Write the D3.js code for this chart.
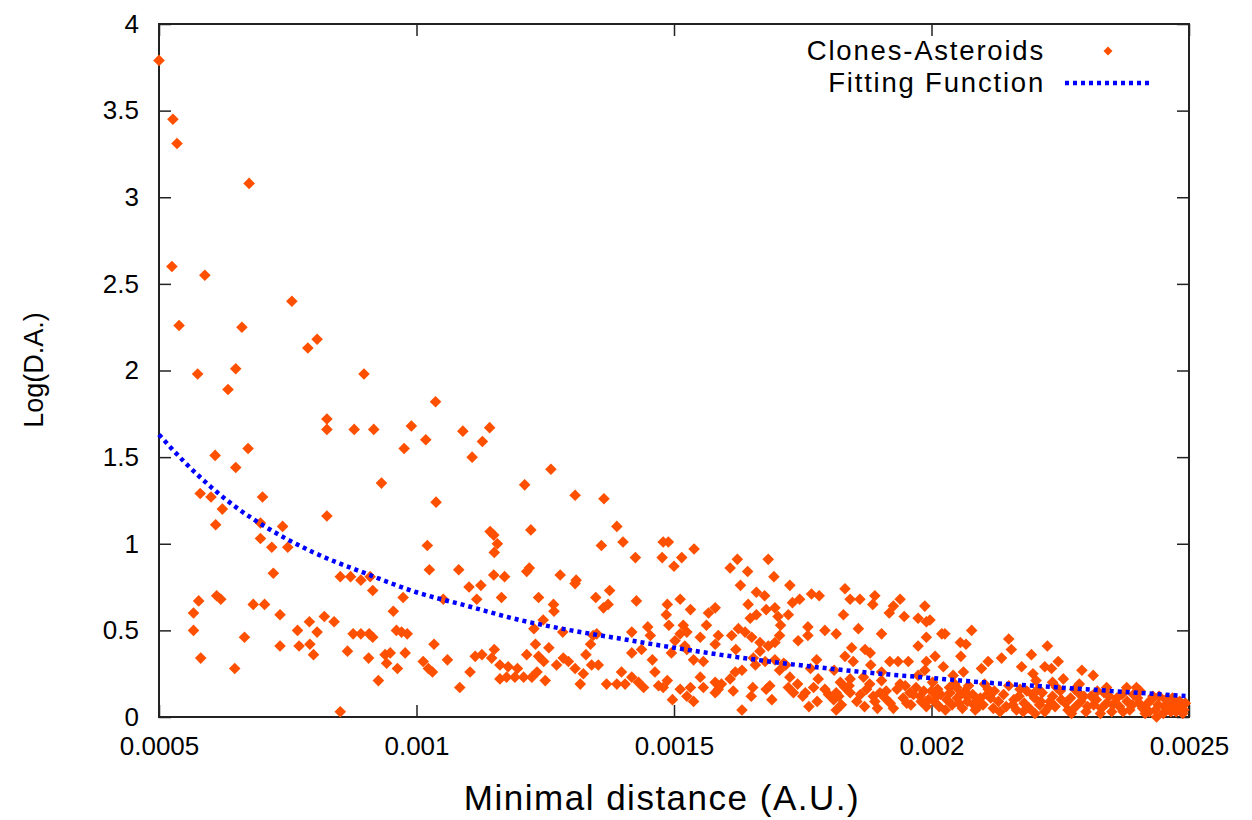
<!DOCTYPE html>
<html><head><meta charset="utf-8">
<script src="https://cdn.jsdelivr.net/npm/d3@7"></script>
<style>
html,body{margin:0;padding:0;background:#fff;}
svg text{font-family:"Liberation Sans",Arial,sans-serif;fill:#000;}
</style></head>
<body><svg id="chart" width="1252" height="820"></svg>
<script>
const xTicks = [0.0005, 0.001, 0.0015, 0.002, 0.0025];
const xTickLabels = ["0.0005", "0.001", "0.0015", "0.002", "0.0025"];
const yTicks = [0, 0.5, 1, 1.5, 2, 2.5, 3, 3.5, 4];
const yTickLabels = ["0", "0.5", "1", "1.5", "2", "2.5", "3", "3.5", "4"];
const seriesNames = ["Clones-Asteroids", "Fitting Function"];
const xTitle = "Minimal distance (A.U.)";
const yTitle = "Log(D.A.)";

// Clones-Asteroids: [minimal distance, log(D.A.)]
const clonePoints = [
[0.0005,3.79],[0.000527,3.45],[0.000535,3.31],[0.000675,3.08],
[0.000525,2.60],[0.000589,2.55],[0.000539,2.26],[0.000758,2.40],[0.000661,2.25],[0.000789,2.13],[0.000807,2.18],
[0.000575,1.98],[0.000649,2.01],[0.000634,1.89],[0.000898,1.98],
[0.000826,1.72],[0.000826,1.66],[0.000879,1.66],[0.000917,1.66],
[0.000609,1.51],[0.000673,1.55],[0.000649,1.44],[0.000932,1.35],
[0.001037,1.82],[0.00099,1.68],[0.001018,1.60],[0.000976,1.55],[0.00109,1.65],[0.001142,1.67],[0.001128,1.59],[0.001108,1.50],
[0.001261,1.43],[0.00121,1.34],[0.001308,1.28],[0.001364,1.26],[0.001038,1.24],
[0.00058,1.29],[0.000601,1.27],[0.000623,1.20],[0.00061,1.11],[0.000701,1.27],[0.000697,1.12],[0.000697,1.03],[0.000719,0.98],[0.00074,1.10],[0.00075,0.98],[0.000826,1.16],[0.000722,0.83],
[0.000852,0.81],[0.000872,0.81],[0.000892,0.79],[0.00091,0.81],[0.000915,0.73],
[0.000567,0.60],[0.000577,0.67],[0.000567,0.50],[0.000581,0.34],[0.000612,0.70],[0.00062,0.68],[0.000666,0.46],[0.000647,0.28],[0.000683,0.65],[0.000705,0.65],[0.000735,0.59],[0.000735,0.41],[0.000769,0.50],[0.000772,0.41],[0.000792,0.55],[0.000807,0.49],[0.000793,0.42],[0.0008,0.36],[0.000821,0.58],[0.00084,0.55],[0.000852,0.03],[0.000866,0.38],[0.000877,0.48],[0.000892,0.48],[0.000908,0.48],[0.000915,0.46],[0.000907,0.34],[0.000926,0.21],[0.000939,0.36],[0.000949,0.37],[0.000942,0.31],[0.000955,0.61],[0.000963,0.28],
[0.001143,1.07],[0.00115,1.05],[0.001157,1.00],[0.001151,0.95],[0.001222,1.08],[0.001021,0.99],[0.001025,0.85],[0.001082,0.85],[0.001389,1.10],[0.001401,1.01],[0.001359,0.99],[0.001425,0.92],[0.001479,1.01],[0.001489,1.01],[0.001477,0.92],[0.0015,0.87],[0.001515,0.92],
[0.001214,0.84],[0.001219,0.86],[0.00115,0.82],[0.001171,0.81],[0.001279,0.82],[0.00131,0.79],[0.001308,0.77],[0.001102,0.75],[0.001125,0.76],[0.001117,0.68],[0.001165,0.69],[0.001237,0.69],[0.001348,0.69],[0.001375,0.73],[0.001363,0.63],[0.001372,0.65],[0.001427,0.67],[0.001487,0.65],[0.001512,0.68],[0.001485,0.59],[0.00149,0.53],[0.001518,0.53],
[0.000974,0.69],[0.001266,0.65],[0.001267,0.61],[0.001246,0.56],[0.001228,0.51],[0.001284,0.49],[0.001343,0.47],[0.00135,0.48],[0.001418,0.49],[0.001449,0.52],[0.001454,0.47],[0.001338,0.42],[0.001418,0.37],[0.001437,0.39],[0.001458,0.33],[0.001495,0.37],
[0.000961,0.50],[0.000971,0.49],[0.000982,0.48],[0.000978,0.37],
[0.001034,0.42],[0.00106,0.33],[0.001013,0.32],[0.001023,0.28],[0.001031,0.26],[0.001084,0.17],[0.001104,0.26],[0.001114,0.35],[0.001127,0.36],[0.001146,0.34],[0.001151,0.39],[0.001162,0.30],[0.001178,0.29],[0.001162,0.22],[0.001175,0.23],[0.001191,0.23],[0.001208,0.23],[0.001224,0.23],[0.001214,0.36],[0.001231,0.42],[0.001237,0.35],[0.001247,0.32],[0.001257,0.40],[0.001272,0.30],[0.00125,0.21],[0.001285,0.34],[0.001295,0.32],[0.001308,0.28],[0.001324,0.25],[0.001318,0.19],[0.001329,0.36],[0.00134,0.30],[0.001353,0.30],[0.001369,0.19],[0.001389,0.19],[0.001398,0.26],[0.001405,0.19],[0.001418,0.23],[0.001431,0.20],[0.001441,0.17],[0.001463,0.26],[0.00147,0.18],[0.001479,0.17],[0.001487,0.21],[0.001497,0.10],[0.001512,0.16],[0.001525,0.12],[0.001502,0.44],[0.001512,0.48],[0.001521,0.41],
[0.001196,0.28],[0.001234,0.26],[0.001052,0.68],
[0.001539,0.97],[0.001609,0.86],[0.001623,0.91],[0.001643,0.84],[0.001683,0.91],[0.001694,0.81],[0.001629,0.76],[0.00166,0.72],[0.001676,0.70],[0.001725,0.76],[0.001644,0.65],[0.001679,0.62],[0.001696,0.63],[0.001702,0.58],[0.001722,0.59],[0.001707,0.53],[0.00173,0.66],[0.001744,0.68],[0.001767,0.71],[0.001782,0.70],[0.001832,0.74],[0.001842,0.68],[0.001861,0.68],[0.00189,0.70],[0.001886,0.65],[0.001829,0.59],[0.00176,0.52],[0.00176,0.47],[0.001741,0.44],[0.001793,0.50],[0.001815,0.48],[0.001858,0.51],[0.001903,0.48],[0.001918,0.60],[0.001926,0.64],[0.001939,0.68],[0.001947,0.58],[0.001974,0.57],[0.001987,0.64],[0.00199,0.55],[0.00199,0.46],[0.001974,0.41],
[0.001532,0.62],[0.001567,0.60],[0.00158,0.63],[0.001563,0.53],[0.001525,0.49],[0.001551,0.46],[0.001586,0.47],[0.00158,0.42],[0.001612,0.47],[0.001625,0.51],[0.001638,0.49],[0.001651,0.46],[0.001667,0.43],[0.001683,0.41],[0.001696,0.43],[0.001705,0.47],[0.001667,0.38],[0.001525,0.39],[0.001538,0.33],[0.001557,0.32],[0.001551,0.23],[0.001557,0.17],[0.001532,0.17],[0.001538,0.09],[0.00158,0.20],[0.001592,0.19],[0.001609,0.22],[0.001619,0.26],[0.001632,0.27],[0.001615,0.15],[0.001632,0.04],[0.001653,0.17],[0.001658,0.30],[0.001679,0.16],[0.001686,0.18],[0.001705,0.27],[0.001717,0.30],[0.001725,0.23],[0.001722,0.17],[0.001732,0.14],[0.001755,0.14],[0.001771,0.17],[0.001777,0.33],[0.001793,0.16],[0.001815,0.14],[0.001823,0.20],[0.001832,0.17],[0.001842,0.22],[0.001848,0.32],[0.001832,0.35],[0.001845,0.40],[0.001871,0.39],[0.001881,0.37],[0.001874,0.16],[0.001887,0.12],[0.0019,0.14],[0.001903,0.21],[0.001919,0.32],[0.001935,0.32],[0.001955,0.32],[0.001926,0.05],[0.001939,0.19],[0.001958,0.14],[0.001978,0.12],[0.001994,0.10],[0.001987,0.27],[0.001974,0.24],[0.001903,0.26],
[0.002078,0.50],[0.00202,0.48],[0.002026,0.48],[0.001997,0.56],[0.002056,0.43],[0.002067,0.42],[0.002057,0.35],[0.002007,0.35],[0.002023,0.29],[0.002062,0.26],[0.00215,0.45],[0.002155,0.39],[0.002136,0.34],[0.002097,0.28],[0.00211,0.32],[0.002194,0.36],[0.002225,0.41],[0.002246,0.32],[0.002175,0.29],[0.00222,0.29],[0.002233,0.28],[0.002197,0.25],[0.002256,0.22],[0.002292,0.27],[0.002314,0.24],[0.002042,0.24],[0.00234,0.17],[0.002379,0.17],[0.002398,0.17],[0.002405,0.15],[0.002201,0.02],[0.002437,0.00],
[0.00199,0.32],[0.001882,0.30],[0.001765,0.28],[0.001811,0.27],[0.001868,0.23],[0.00175,0.12],[0.00182,0.12],[0.001842,0.14],[0.001933,0.16],[0.001949,0.18],[0.002012,0.16],[0.002036,0.14],[0.002056,0.13],[0.002069,0.12],[0.002082,0.07],[0.002095,0.11],[0.002108,0.13],[0.002049,0.17],
[0.002203,0.21],[0.002235,0.20],[0.002287,0.19],
[0.00162,0.39],[0.001654,0.34],[0.001677,0.32],[0.001696,0.33],[0.001713,0.31],[0.001586,0.16],[0.00158,0.14],[0.001648,0.57],[0.00166,0.59],
[0.00200,0.15],[0.002005,0.09],[0.00201,0.12],[0.002015,0.06],[0.00203,0.10],[0.002035,0.17],[0.00204,0.07],[0.00205,0.11],[0.00206,0.05],[0.002065,0.15],[0.00207,0.09],[0.00208,0.13],[0.002085,0.04],[0.00209,0.10],[0.0021,0.07],[0.00211,0.16],[0.002115,0.11],[0.00212,0.05],[0.00213,0.09],[0.00214,0.13],[0.002145,0.06],[0.00215,0.18],[0.00216,0.10],[0.002165,0.04],[0.00217,0.12],[0.00218,0.08],[0.002185,0.15],[0.00219,0.05],[0.0022,0.11],[0.00221,0.07],[0.002215,0.14],[0.00222,0.03],[0.00223,0.09],[0.002235,0.12],[0.00224,0.06],[0.00225,0.15],[0.00226,0.08],[0.002265,0.04],[0.00227,0.11],[0.00228,0.06],[0.002285,0.14],[0.00229,0.09],[0.0023,0.03],[0.00231,0.12],[0.002315,0.07],[0.00232,0.10],[0.00233,0.05],[0.002335,0.14],[0.00234,0.08],[0.00235,0.03],[0.00236,0.11],[0.002365,0.06],[0.00237,0.13],[0.00238,0.09],[0.002385,0.04],[0.00239,0.07],[0.0024,0.11],[0.00241,0.05],[0.002415,0.02],[0.00242,0.08],[0.00243,0.12],[0.002435,0.04],[0.00244,0.07],[0.00245,0.02],[0.002455,0.10],[0.00246,0.05],[0.00247,0.08],[0.002475,0.03],[0.00248,0.06],[0.00249,0.04],[0.002493,0.08],
[0.00181,0.10],[0.001825,0.07],[0.00184,0.18],[0.001855,0.09],[0.00187,0.06],[0.00188,0.19],[0.00189,0.09],[0.00191,0.11],[0.00192,0.08],[0.001945,0.11],[0.00196,0.07],[0.00197,0.17],[0.00198,0.09],[0.00199,0.06],
[0.00165,0.12],[0.00169,0.10],[0.00174,0.19],[0.00178,0.22],[0.0018,0.13],
[0.002002,0.20],[0.002018,0.13],[0.002027,0.04],[0.002045,0.19],[0.002053,0.08],[0.002072,0.18],[0.002091,0.06],[0.002103,0.19],[0.002122,0.15],[0.002133,0.03],[0.002158,0.07],[0.002172,0.16],[0.002178,0.03],[0.002196,0.13],[0.002207,0.16],[0.002212,0.09],[0.002228,0.06],[0.002243,0.17],[0.002252,0.10],[0.002272,0.02],[0.002278,0.16],[0.002296,0.12],[0.002303,0.06],[0.002322,0.15],[0.002328,0.02],[0.002345,0.12],[0.002352,0.07],[0.002372,0.03],[0.002392,0.13],[0.002403,0.08],[0.002423,0.03],[0.002427,0.10],[0.002442,0.12],[0.002452,0.06],[0.002465,0.03],[0.002468,0.11],[0.002482,0.09],[0.002488,0.02],
[0.001815,0.04],[0.001862,0.13],[0.001895,0.05],[0.001912,0.15],[0.001952,0.08],[0.001965,0.13],[0.001985,0.15],[0.001778,0.09],[0.001762,0.06]
];

// Fitting function
const fitX = [0.0005,0.00055,0.0006,0.00065,0.0007,0.0008,0.0009,0.001,0.0011,0.0012,0.0013,0.0014,0.0015,0.0016,0.0017,0.0018,0.0019,0.002,0.0021,0.0022,0.0023,0.0024,0.0025];
const fitY = [1.63,1.47,1.33,1.21,1.11,0.95,0.83,0.72,0.64,0.56,0.50,0.45,0.40,0.355,0.315,0.28,0.25,0.225,0.20,0.18,0.16,0.14,0.12];

const pointColor = "#ff5000";
const fitColor = "#0000ff";

const svg = d3.select("#chart");
const L = 159, R = 1189, T = 24, B = 717;
const x = d3.scaleLinear().domain([0.0005, 0.0025]).range([L, R]);
const y = d3.scaleLinear().domain([0, 4]).range([B, T]);

// axes with inward ticks
const axB = svg.append("g").attr("transform", `translate(0,${B})`)
  .call(d3.axisBottom(x).tickValues(xTicks).tickFormat((d,i)=>xTickLabels[i]).tickSize(-12).tickSizeOuter(0).tickPadding(20));
const axL = svg.append("g").attr("transform", `translate(${L},0)`)
  .call(d3.axisLeft(y).tickValues(yTicks).tickFormat((d,i)=>yTickLabels[i]).tickSize(-12).tickSizeOuter(0).tickPadding(20));
const axT = svg.append("g").attr("transform", `translate(0,${T})`)
  .call(d3.axisTop(x).tickValues(xTicks).tickFormat("").tickSize(-12).tickSizeOuter(0));
const axR = svg.append("g").attr("transform", `translate(${R},0)`)
  .call(d3.axisRight(y).tickValues(yTicks).tickFormat("").tickSize(-12).tickSizeOuter(0));
[axB, axL, axT, axR].forEach(g => {
  g.selectAll("path.domain").remove();
  g.selectAll(".tick line").attr("stroke", "#222").attr("stroke-width", 1.5);
  g.selectAll(".tick text").attr("font-size", 26).attr("font-family", "Liberation Sans, Arial, sans-serif").attr("fill", "#000");
});
svg.append("rect").attr("x", L).attr("y", T).attr("width", R-L).attr("height", B-T)
  .attr("fill", "none").attr("stroke", "#222").attr("stroke-width", 2);

const diamond = r => `M0,${-r}L${r},0L0,${r}L${-r},0Z`;

// points
const plot = svg.append("g");
plot.selectAll("path.pt").data(clonePoints).join("path")
  .attr("class", "pt")
  .attr("d", diamond(5.8))
  .attr("transform", d => `translate(${x(d[0])},${y(d[1])})`)
  .attr("fill", pointColor);

// fitting function
const fitData = fitX.map((v,i)=>[v, fitY[i]]);
plot.append("path").datum(fitData)
  .attr("d", d3.line().x(d=>x(d[0])).y(d=>y(d[1])).curve(d3.curveMonotoneX))
  .attr("fill", "none").attr("stroke", fitColor).attr("stroke-width", 4.5)
  .attr("stroke-dasharray", "4,4");

// titles
svg.append("text").attr("x", 662).attr("y", 810).attr("text-anchor", "middle")
  .attr("font-size", 35).attr("letter-spacing", 1.5).text(xTitle);
svg.append("text").attr("transform", "translate(43,370) rotate(-90)").attr("text-anchor", "middle")
  .attr("font-size", 27).text(yTitle);

// legend
const lg = svg.append("g");
lg.append("text").attr("x", 1045).attr("y", 60).attr("text-anchor", "end").attr("font-size", 27.5).attr("letter-spacing", 1.8).text(seriesNames[0]);
lg.append("path").attr("d", diamond(4.5)).attr("transform", "translate(1108,51)").attr("fill", pointColor);
lg.append("text").attr("x", 1045).attr("y", 92).attr("text-anchor", "end").attr("font-size", 27.5).attr("letter-spacing", 1.8).text(seriesNames[1]);
lg.append("line").attr("x1", 1065).attr("x2", 1149).attr("y1", 83).attr("y2", 83)
  .attr("stroke", fitColor).attr("stroke-width", 4.5).attr("stroke-dasharray", "4,4");
</script>
</body></html>
